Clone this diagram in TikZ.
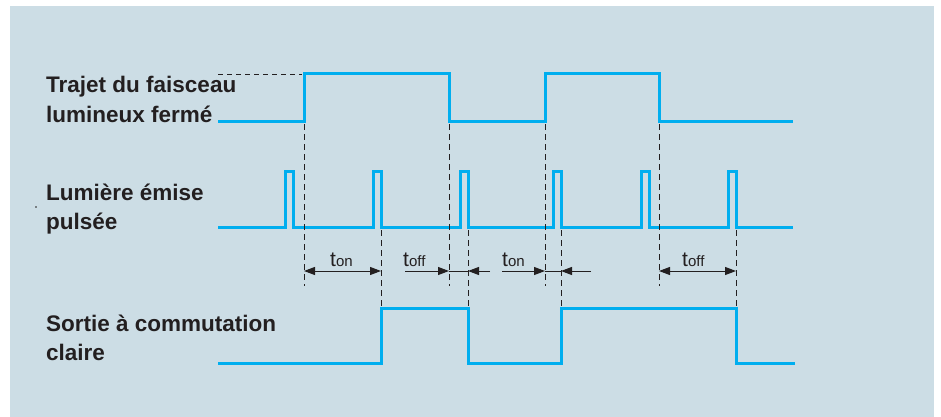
\documentclass[tikz,border=0pt]{standalone}
\usepackage{fontspec}
\setmainfont{Liberation Sans}
\usetikzlibrary{arrows.meta}
\definecolor{bg}{RGB}{204,221,229}
\definecolor{sig}{RGB}{0,174,239}
\definecolor{ink}{RGB}{35,31,32}
\begin{document}
\begin{tikzpicture}[x=1pt,y=-1pt,
  signal/.style={sig, line width=3pt, line join=miter},
  guide/.style={ink, line width=0.8pt, dash pattern=on 6pt off 4pt},
  dimline/.style={ink, line width=1pt},
  tipend/.style={-{Triangle[length=11pt,width=8pt]}},
  tipboth/.style={{Triangle[length=11pt,width=8pt]}-{Triangle[length=11pt,width=8pt]}},
  lbl/.style={font=\fontsize{22.5}{26}\selectfont\bfseries, text=ink, anchor=base west, inner sep=0pt},
  tlbl/.style={text=ink, anchor=base west, inner sep=0pt}]
\useasboundingbox (0,0) rectangle (941,417);
\fill[bg] (10,6) rectangle (934,417);

% labels
\node[lbl] (l1a) at (46,93) {Trajet du faisceau};
\node[lbl] (l1b) at (46,122) {lumineux fermé};
\node[lbl] (l2a) at (46,200) {Lumière émise};
\node[lbl] (l2b) at (46,229) {pulsée};
\node[lbl] (l3a) at (46,331) {Sortie à commutation};
\node[lbl] (l3b) at (46,360) {claire};
\fill[ink] (36,207) circle (0.8pt);

% signal 1: light path blocked
\draw[signal] (218,121) -- (304,121) -- (304,74) -- (449,74) -- (449,121)
  -- (545,121) -- (545,74) -- (659,74) -- (659,121) -- (793,121);
\draw[ink, line width=0.8pt, dash pattern=on 5pt off 4pt] (218,74) -- (302,74);

% signal 2: pulsed light
\draw[signal] (218,227) -- (285,227) -- (285,171) -- (293,171) -- (293,227)
  -- (373,227) -- (373,171) -- (381,171) -- (381,227)
  -- (460,227) -- (460,171) -- (468,171) -- (468,227)
  -- (553,227) -- (553,171) -- (561,171) -- (561,227)
  -- (641,227) -- (641,171) -- (649,171) -- (649,227)
  -- (728,227) -- (728,171) -- (736,171) -- (736,227) -- (793,227);

% signal 3: output
\draw[signal] (218,363) -- (381,363) -- (381,308) -- (468,308) -- (468,363)
  -- (561,363) -- (561,308) -- (736,308) -- (736,363) -- (795,363);

% guides
\foreach \x in {304,449,545,659} {
  \coordinate (gt\x) at (\x,124);
  \coordinate (gb\x) at (\x,286);
  \draw[guide] (gt\x) -- (gb\x);
}
\foreach \x in {381,468,561,736} {
  \coordinate (pt\x) at (\x,230);
  \coordinate (pb\x) at (\x,308);
  \draw[guide] (pt\x) -- (pb\x);
}

% dimension arrows
\coordinate (a1) at (304,271); \coordinate (a2) at (381,271);
\coordinate (b0) at (405,271); \coordinate (b1) at (449,271);
\coordinate (b2) at (468,271); \coordinate (b3) at (490,271);
\coordinate (c0) at (502,271); \coordinate (c1) at (545,271);
\coordinate (c2) at (561,271); \coordinate (c3) at (591,271);
\coordinate (d1) at (659,271); \coordinate (d2) at (736,271);
\draw[dimline, tipboth] (a1) -- (a2);
\draw[dimline, tipend] (b0) -- (b1);
\draw[dimline] (b1) -- (b2);
\draw[dimline, tipend] (b3) -- (b2);
\draw[dimline, tipend] (c0) -- (c1);
\draw[dimline] (c1) -- (c2);
\draw[dimline, tipend] (c3) -- (c2);
\draw[dimline, tipboth] (d1) -- (d2);

\newcommand{\tsub}[1]{{\fontsize{21}{21}\selectfont t}{\fontsize{15}{15}\selectfont #1}}
\node[tlbl] (ton1) at (330,266) {\tsub{on}};
\node[tlbl] (toff1) at (403,266) {\tsub{off}};
\node[tlbl] (ton2) at (502,266) {\tsub{on}};
\node[tlbl] (toff2) at (682,266) {\tsub{off}};
\end{tikzpicture}
\end{document}
